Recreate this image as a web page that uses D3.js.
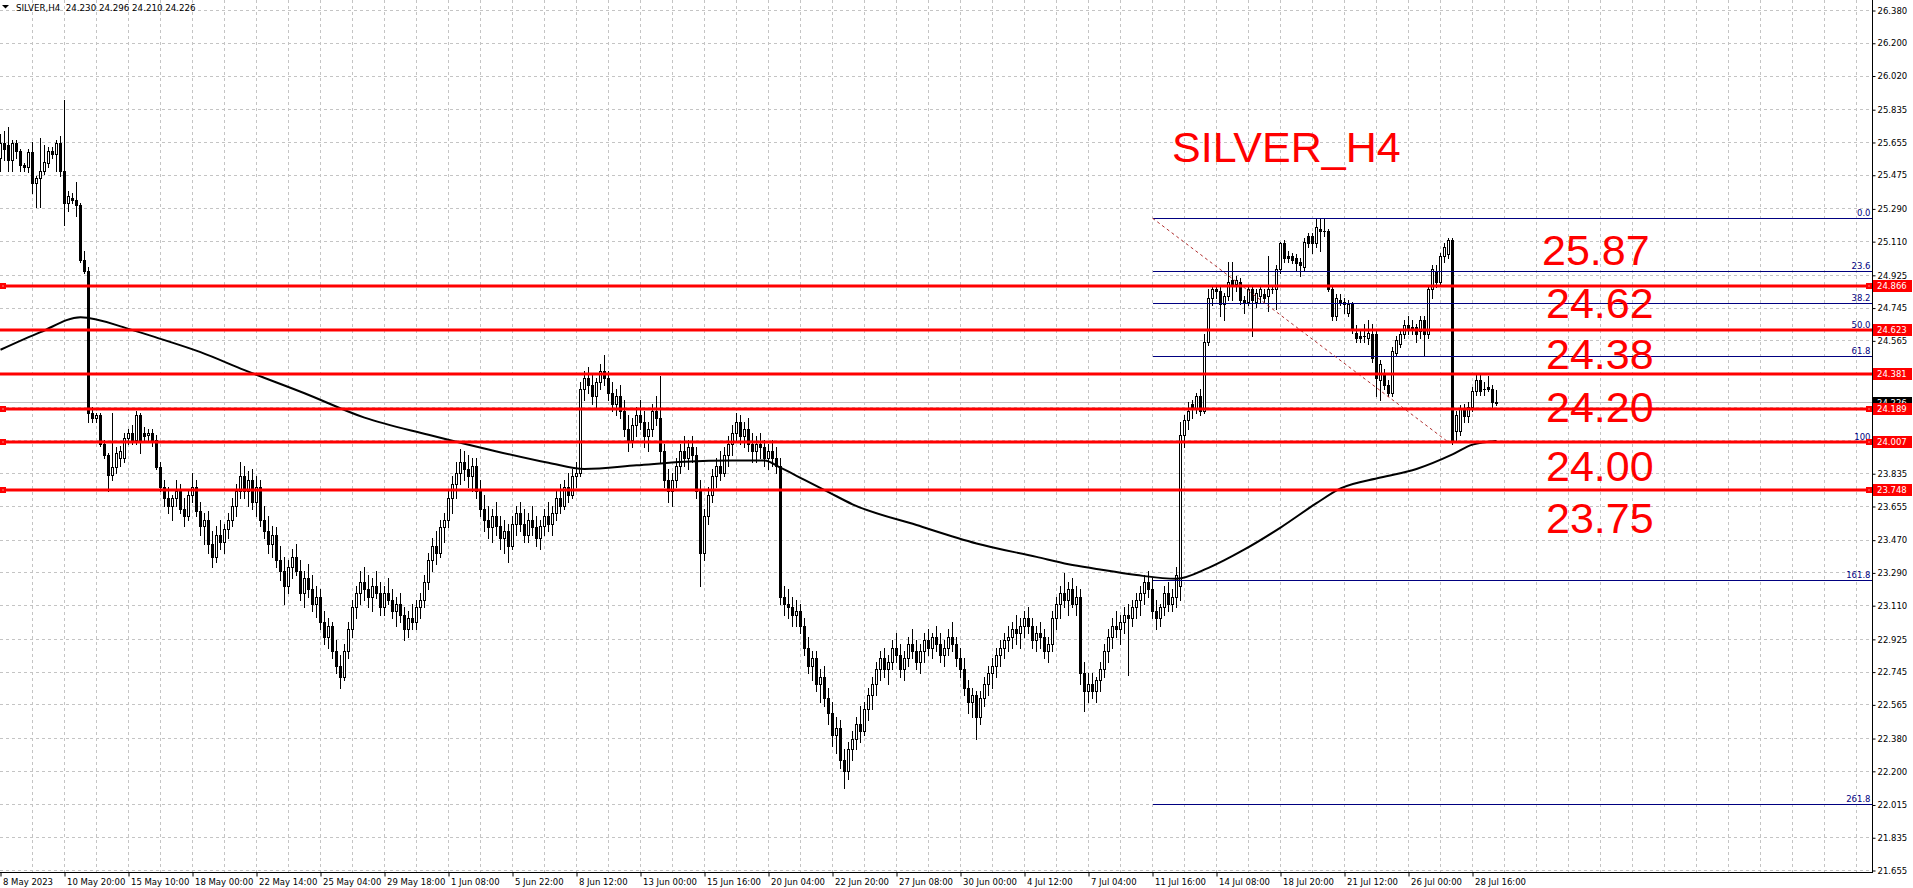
<!DOCTYPE html>
<html><head><meta charset="utf-8">
<script src="https://cdn.jsdelivr.net/npm/d3@7"></script>
<style>html,body{margin:0;padding:0;background:#fff;overflow:hidden}svg{display:block}</style>
</head><body>
<script>
// ---------------- DATA ----------------
const headerText = "SILVER,H4  24.230 24.296 24.210 24.226";
const chartTitle = "SILVER_H4";
// OHLC per H4 bar, oldest first
const candles = [
[25.57,25.70,25.50,25.65],[25.65,25.72,25.56,25.62],[25.64,25.74,25.50,25.56],[25.56,25.67,25.50,25.65],
[25.65,25.67,25.57,25.61],[25.61,25.62,25.50,25.53],[25.53,25.54,25.50,25.52],[25.52,25.62,25.49,25.60],
[25.60,25.66,25.38,25.43],[25.43,25.47,25.30,25.46],[25.46,25.68,25.30,25.50],[25.50,25.64,25.48,25.55],
[25.54,25.63,25.52,25.61],[25.61,25.63,25.57,25.59],[25.59,25.67,25.50,25.65],[25.65,25.69,25.47,25.50],
// 16
[25.50,25.89,25.20,25.32],[25.32,25.39,25.28,25.36],[25.35,25.38,25.32,25.34],[25.34,25.44,25.25,25.31],
[25.31,25.32,25.00,25.01],[25.01,25.06,24.94,24.95],[24.95,24.97,24.12,24.17],[24.17,24.20,24.12,24.14],
[24.14,24.17,24.12,24.16],[24.16,24.17,23.99,24.00],[24.00,24.02,23.92,23.94],[23.94,23.95,23.74,23.83],
[23.83,24.17,23.80,23.87],[23.87,23.98,23.84,23.95],[23.92,23.99,23.88,23.96],[23.92,24.06,23.90,24.03],
// 32
[24.03,24.08,24.00,24.06],[24.06,24.10,24.00,24.02],[24.02,24.18,24.00,24.16],[24.16,24.17,23.95,24.02],
[24.06,24.09,24.02,24.04],[24.05,24.08,24.02,24.06],[24.06,24.08,23.99,24.02],[24.02,24.05,23.86,23.87],
[23.87,23.90,23.74,23.76],[23.76,23.80,23.66,23.70],[23.70,23.76,23.62,23.66],[23.66,23.72,23.58,23.70],
[23.70,23.80,23.66,23.74],[23.74,23.78,23.62,23.64],[23.64,23.70,23.55,23.60],[23.60,23.75,23.58,23.72],
// 48
[23.72,23.84,23.68,23.76],[23.76,23.80,23.60,23.63],[23.63,23.68,23.50,23.55],[23.55,23.62,23.45,23.58],
[23.58,23.63,23.40,23.45],[23.45,23.52,23.32,23.38],[23.38,23.55,23.35,23.50],[23.50,23.58,23.42,23.46],
[23.46,23.56,23.40,23.53],[23.53,23.62,23.48,23.58],[23.58,23.70,23.55,23.66],[23.66,23.78,23.60,23.74],
[23.74,23.90,23.70,23.82],[23.82,23.88,23.70,23.74],[23.74,23.85,23.66,23.80],[23.80,23.86,23.64,23.68],
// 64
[23.68,23.82,23.60,23.76],[23.76,23.80,23.55,23.58],[23.58,23.66,23.48,23.52],[23.52,23.60,23.40,23.45],
[23.45,23.55,23.38,23.50],[23.50,23.54,23.32,23.36],[23.36,23.44,23.25,23.30],[23.30,23.38,23.12,23.22],
[23.22,23.36,23.18,23.32],[23.32,23.42,23.26,23.38],[23.38,23.45,23.28,23.30],[23.30,23.36,23.14,23.18],
[23.18,23.30,23.10,23.26],[23.26,23.34,23.16,23.20],[23.20,23.28,23.08,23.12],[23.12,23.22,23.05,23.16],
// 80
[23.16,23.20,22.98,23.02],[23.02,23.08,22.90,22.94],[22.94,23.04,22.88,23.00],[23.00,23.02,22.82,22.86],
[22.86,22.92,22.74,22.78],[22.78,22.84,22.66,22.72],[22.72,22.90,22.70,22.86],[22.86,23.02,22.82,22.98],
[22.98,23.14,22.94,23.10],[23.10,23.22,23.04,23.18],[23.18,23.30,23.12,23.24],[23.24,23.32,23.14,23.20],
[23.20,23.28,23.10,23.16],[23.16,23.26,23.08,23.22],[23.22,23.30,23.15,23.18],[23.18,23.24,23.06,23.10],
// 96
[23.10,23.22,23.06,23.18],[23.18,23.26,23.12,23.14],[23.14,23.20,23.04,23.08],[23.08,23.16,23.00,23.12],
[23.12,23.18,23.02,23.06],[23.06,23.10,22.92,22.98],[22.98,23.08,22.94,23.04],[23.04,23.12,22.98,23.02],
[23.02,23.14,22.98,23.10],[23.10,23.18,23.04,23.14],[23.14,23.28,23.10,23.24],[23.24,23.40,23.20,23.36],
[23.36,23.48,23.30,23.44],[23.44,23.52,23.34,23.40],[23.40,23.58,23.38,23.54],[23.54,23.62,23.46,23.58],
// 112
[23.58,23.74,23.54,23.70],[23.70,23.82,23.62,23.78],[23.78,23.90,23.70,23.84],[23.84,23.97,23.78,23.90],
[23.90,23.96,23.80,23.86],[23.86,23.94,23.76,23.82],[23.82,23.92,23.74,23.88],[23.88,23.92,23.70,23.74],
[23.74,23.80,23.60,23.64],[23.64,23.72,23.52,23.58],[23.58,23.66,23.48,23.54],[23.54,23.64,23.46,23.60],
[23.60,23.68,23.50,23.55],[23.55,23.60,23.42,23.48],[23.48,23.58,23.40,23.52],[23.52,23.56,23.35,23.44],
// 128
[23.44,23.60,23.42,23.56],[23.56,23.66,23.50,23.62],[23.62,23.68,23.52,23.56],[23.56,23.64,23.46,23.50],
[23.50,23.62,23.46,23.58],[23.58,23.66,23.50,23.54],[23.54,23.60,23.44,23.48],[23.48,23.58,23.42,23.55],
[23.55,23.64,23.50,23.60],[23.60,23.68,23.52,23.56],[23.56,23.66,23.50,23.62],[23.62,23.74,23.58,23.70],
[23.70,23.78,23.62,23.66],[23.66,23.80,23.64,23.76],[23.76,23.84,23.68,23.72],[23.72,23.86,23.70,23.82],
// 144
[23.82,23.90,23.76,23.84],[23.84,24.34,23.82,24.30],[24.30,24.40,24.24,24.36],[24.36,24.42,24.28,24.32],
[24.32,24.38,24.22,24.26],[24.26,24.36,24.20,24.34],[24.34,24.44,24.30,24.40],[24.40,24.49,24.32,24.36],
[24.36,24.40,24.24,24.28],[24.28,24.34,24.18,24.22],[24.22,24.30,24.16,24.26],[24.26,24.32,24.14,24.18],
[24.18,24.24,24.04,24.08],[24.08,24.16,23.96,24.02],[24.02,24.14,23.98,24.10],[24.10,24.20,24.04,24.16],
// 160
[24.16,24.24,24.08,24.12],[24.12,24.18,23.98,24.04],[24.04,24.12,23.96,24.08],[24.08,24.22,24.04,24.18],
[24.18,24.26,24.10,24.14],[24.14,24.37,23.90,23.96],[23.96,24.00,23.76,23.80],[23.80,23.86,23.68,23.74],
[23.74,23.84,23.66,23.80],[23.80,23.92,23.76,23.88],[23.88,24.00,23.84,23.96],[23.96,24.04,23.88,23.92],
[23.92,24.02,23.86,23.98],[23.98,24.04,23.90,23.94],[23.94,23.98,23.70,23.74],[23.74,23.80,23.22,23.40],
// 176
[23.40,23.64,23.36,23.60],[23.60,23.76,23.56,23.72],[23.72,23.86,23.68,23.82],[23.82,23.92,23.76,23.88],
[23.88,23.96,23.80,23.84],[23.84,23.98,23.82,23.94],[23.94,24.04,23.88,24.00],[24.00,24.10,23.94,24.06],
[24.06,24.17,24.02,24.12],[24.12,24.16,24.00,24.04],[24.04,24.12,23.98,24.08],[24.08,24.14,23.96,24.00],
[24.00,24.06,23.90,23.96],[23.96,24.04,23.90,24.00],[24.00,24.06,23.92,23.98],[23.98,24.02,23.88,23.92],
// 192
[23.92,24.00,23.86,23.96],[23.96,24.02,23.88,23.92],[23.92,23.98,23.84,23.88],[23.88,23.92,23.12,23.16],
[23.16,23.22,23.06,23.12],[23.12,23.20,23.04,23.10],[23.10,23.16,23.00,23.06],[23.06,23.14,23.00,23.08],
[23.08,23.12,22.96,23.00],[23.00,23.04,22.84,22.88],[22.88,22.94,22.74,22.78],[22.78,22.86,22.70,22.82],
[22.82,22.86,22.64,22.68],[22.68,22.76,22.58,22.72],[22.72,22.78,22.56,22.60],[22.60,22.66,22.46,22.52],
// 208
[22.52,22.58,22.34,22.40],[22.40,22.50,22.30,22.44],[22.44,22.48,22.22,22.26],[22.26,22.32,22.11,22.20],
[22.20,22.36,22.16,22.32],[22.32,22.42,22.26,22.38],[22.38,22.50,22.32,22.46],[22.46,22.56,22.36,22.42],
[22.42,22.58,22.40,22.54],[22.54,22.66,22.48,22.62],[22.62,22.72,22.54,22.68],[22.68,22.80,22.62,22.76],
[22.76,22.86,22.70,22.82],[22.82,22.88,22.72,22.76],[22.76,22.84,22.68,22.80],[22.80,22.92,22.76,22.88],
// 224
[22.88,22.96,22.80,22.84],[22.84,22.90,22.72,22.76],[22.76,22.86,22.70,22.82],[22.82,22.94,22.78,22.90],
[22.90,22.98,22.82,22.86],[22.86,22.92,22.76,22.80],[22.80,22.90,22.74,22.86],[22.86,22.96,22.80,22.92],
[22.92,22.98,22.84,22.88],[22.88,22.96,22.82,22.94],[22.94,23.00,22.86,22.90],[22.90,22.96,22.80,22.84],
[22.84,22.92,22.78,22.88],[22.88,22.98,22.84,22.94],[22.94,23.02,22.86,22.90],[22.90,22.94,22.78,22.82],
// 240
[22.82,22.88,22.72,22.76],[22.76,22.82,22.62,22.66],[22.66,22.70,22.52,22.58],[22.58,22.66,22.50,22.62],
[22.62,22.64,22.38,22.50],[22.50,22.64,22.46,22.60],[22.60,22.72,22.56,22.68],[22.68,22.78,22.62,22.74],
[22.74,22.82,22.66,22.78],[22.78,22.88,22.72,22.84],[22.84,22.92,22.78,22.88],[22.88,22.96,22.82,22.92],
[22.92,23.00,22.86,22.94],[22.94,23.02,22.88,22.98],[22.98,23.06,22.90,22.96],[22.96,23.04,22.88,23.00],
// 256
[23.00,23.08,22.94,23.04],[23.04,23.10,22.96,23.00],[23.00,23.04,22.88,22.92],[22.92,23.00,22.86,22.96],
[22.96,23.02,22.88,22.94],[22.94,22.98,22.82,22.86],[22.86,22.94,22.80,22.90],[22.90,23.08,22.86,23.04],
[23.04,23.16,22.98,23.12],[23.12,23.22,23.04,23.18],[23.18,23.29,23.10,23.14],[23.14,23.24,23.06,23.20],
[23.20,23.26,23.10,23.12],[23.12,23.22,23.06,23.16],[23.16,23.20,22.68,22.74],[22.74,22.80,22.53,22.64],
// 272
[22.64,22.74,22.58,22.68],[22.68,22.74,22.60,22.64],[22.64,22.72,22.58,22.70],[22.70,22.80,22.64,22.76],
[22.76,22.90,22.72,22.86],[22.86,22.98,22.80,22.94],[22.94,23.04,22.88,23.00],[23.00,23.08,22.94,22.98],
[22.98,23.06,22.90,23.02],[23.02,23.10,22.96,23.06],[23.06,23.12,22.73,23.04],[23.04,23.14,23.00,23.10],
[23.10,23.18,23.04,23.14],[23.14,23.22,23.06,23.18],[23.18,23.28,23.12,23.24],[23.24,23.30,23.16,23.20],
// 288
[23.20,23.26,23.04,23.08],[23.08,23.14,22.98,23.04],[23.04,23.12,23.00,23.10],[23.10,23.22,23.06,23.18],
[23.18,23.24,23.08,23.12],[23.12,23.20,23.08,23.16],[23.16,23.32,23.10,23.28],[23.22,24.12,23.14,24.05],
[24.05,24.16,23.98,24.13],[24.13,24.23,24.08,24.18],[24.22,24.24,24.14,24.19],[24.19,24.28,24.17,24.26],
[24.26,24.30,24.16,24.18],[24.18,24.60,24.17,24.56],[24.56,24.85,24.54,24.80],[24.80,24.87,24.76,24.85],
// 304
[24.85,24.87,24.80,24.84],[24.84,24.86,24.70,24.77],[24.77,24.83,24.68,24.81],[24.81,25.00,24.79,24.89],
[24.90,25.00,24.79,24.88],[24.88,24.92,24.84,24.90],[24.89,24.91,24.77,24.79],[24.79,24.81,24.72,24.78],
[24.78,24.87,24.76,24.85],[24.85,24.86,24.59,24.79],[24.78,24.85,24.75,24.83],[24.81,24.87,24.78,24.85],
[24.82,24.85,24.78,24.80],[24.81,25.03,24.73,24.85],[24.85,24.87,24.83,24.85],[24.85,24.98,24.74,24.96],
// 320
[24.96,25.11,24.94,25.10],[25.10,25.12,25.00,25.02],[25.03,25.06,25.00,25.02],[25.03,25.05,24.99,25.01],
[25.02,25.04,24.95,24.99],[25.00,25.02,24.92,24.98],[24.97,25.13,24.95,25.11],[25.14,25.16,25.08,25.10],
[25.14,25.16,25.05,25.10],[25.10,25.24,25.08,25.19],[25.18,25.24,25.06,25.17],[25.17,25.24,25.14,25.17],
[25.17,25.18,24.84,24.85],[24.85,24.87,24.68,24.70],[24.70,24.82,24.68,24.80],[24.79,24.82,24.76,24.78],
// 336
[24.78,24.80,24.72,24.77],[24.72,24.79,24.70,24.77],[24.77,24.78,24.61,24.63],[24.61,24.65,24.56,24.58],
[24.59,24.63,24.56,24.58],[24.59,24.66,24.56,24.59],[24.58,24.68,24.55,24.61],[24.60,24.66,24.45,24.47],
[24.60,24.62,24.26,24.36],[24.35,24.46,24.24,24.44],[24.38,24.41,24.30,24.32],[24.32,24.35,24.26,24.28],
[24.28,24.53,24.26,24.51],[24.50,24.59,24.48,24.57],[24.55,24.62,24.53,24.60],[24.60,24.68,24.58,24.65],
// 352
[24.65,24.70,24.60,24.63],[24.64,24.68,24.60,24.63],[24.64,24.66,24.56,24.60],[24.62,24.70,24.58,24.68],
[24.68,24.70,24.49,24.60],[24.60,24.87,24.58,24.85],[24.85,24.98,24.80,24.96],[24.95,24.98,24.86,24.89],
[24.89,25.05,24.87,25.03],[25.03,25.10,25.00,25.08],[25.04,25.13,25.02,25.12],[25.12,25.13,24.00,24.02],
[24.07,24.18,24.02,24.16],[24.07,24.21,24.05,24.19],[24.19,24.22,24.12,24.15],[24.15,24.23,24.12,24.20],
// 368
[24.20,24.31,24.18,24.29],[24.29,24.39,24.27,24.35],[24.35,24.38,24.27,24.29],[24.30,24.34,24.27,24.30],
[24.31,24.37,24.29,24.30],[24.30,24.32,24.20,24.23],[24.230,24.296,24.210,24.226]
];
// Moving average (black curve): bar index -> value
const maBars   = [0,10,20,32,40,50,61,76,91,107,122,137,146,159,171,183,191,195,201,207,213,229,244,259,267,274,284,294,302,311,320,329,335,345,354,363,368,374];
const maValues = [24.516,24.613,24.695,24.631,24.576,24.503,24.404,24.277,24.143,24.049,23.968,23.895,23.861,23.881,23.901,23.908,23.908,23.868,23.801,23.734,23.667,23.553,23.452,23.378,23.338,23.312,23.278,23.258,23.318,23.419,23.539,23.673,23.754,23.814,23.861,23.941,23.995,24.015];
// Price axis tick labels
const yTickLabels = ["21.655","21.835","22.015","22.200","22.380","22.565","22.745","22.925","23.110","23.290","23.470","23.655","23.835","24.020","24.200","24.381","24.565","24.745","24.925","25.110","25.290","25.475","25.655","25.835","26.020","26.200","26.380"];
// Time axis labels (every 16 bars)
const xTickLabels = ["8 May 2023","10 May 20:00","15 May 10:00","18 May 00:00","22 May 14:00","25 May 04:00","29 May 18:00","1 Jun 08:00","5 Jun 22:00","8 Jun 12:00","13 Jun 00:00","15 Jun 16:00","20 Jun 04:00","22 Jun 20:00","27 Jun 08:00","30 Jun 00:00","4 Jul 12:00","7 Jul 04:00","11 Jul 16:00","14 Jul 08:00","18 Jul 20:00","21 Jul 12:00","26 Jul 00:00","28 Jul 16:00"];
// Horizontal support/resistance levels
const levelPrices = [24.866, 24.623, 24.381, 24.189, 24.007, 23.748];
const levelMarked = [true, false, false, true, true, true];
const currentPrice = 24.226;
// Fibonacci retracement
const fibHigh = 25.239, fibLow = 24.008;
const fibStartBar = 288, fibEndBar = 362;
const fibRatios = [0, 23.6, 38.2, 50.0, 61.8, 100, 161.8, 261.8];
const fibLabels = ["0.0","23.6","38.2","50.0","61.8","100","161.8","261.8"];
// Big annotation texts
const noteLabels = ["25.87","24.62","24.38","24.20","24.00","23.75"];

// ---------------- CHART ----------------
const W = 1913, H = 888;
const plotRight = 1872.5, plotBottom = 872.5;
const FONT = '"DejaVu Sans", Verdana, sans-serif';
const svg = d3.select('body').append('svg').attr('width', W).attr('height', H)
  .style('font-family', FONT);

const y = d3.scaleLinear().domain([21.655, 26.380]).range([870.5, 10.5]);
const x = d3.scaleLinear().domain([0, 468]).range([0.5, 1872.5]);
const snap = v => Math.round(v - 0.5) + 0.5;

// grid
const grid = svg.append('g').attr('stroke', '#c4c4c4').attr('stroke-dasharray', '3,3')
  .attr('shape-rendering', 'crispEdges');
yTickLabels.forEach(t => {
  const yy = snap(y(+t));
  grid.append('line').attr('x1', 0).attr('x2', plotRight).attr('y1', yy).attr('y2', yy);
});
for (let b = 8; b < 468; b += 8) {
  const xx = snap(x(b));
  grid.append('line').attr('x1', xx).attr('x2', xx).attr('y1', 0).attr('y2', plotBottom);
}

// current price line
svg.append('line').attr('x1', 0).attr('x2', plotRight)
  .attr('y1', snap(y(currentPrice))).attr('y2', snap(y(currentPrice)))
  .attr('stroke', '#c0c0c0').attr('shape-rendering', 'crispEdges');

// candles
const cg = svg.append('g').attr('shape-rendering', 'crispEdges');
candles.forEach((c, i) => {
  const [o, h, l, cl] = c;
  const cx = x(i);
  cg.append('line').attr('x1', cx).attr('x2', cx).attr('y1', Math.round(y(h))).attr('y2', Math.round(y(l)) + 1)
    .attr('stroke', '#000');
  const top = Math.round(y(Math.max(o, cl))), bot = Math.round(y(Math.min(o, cl)));
  if (cl > o) {
    cg.append('rect').attr('x', cx - 1).attr('width', 2).attr('y', top + 0.5).attr('height', Math.max(bot - top, 1))
      .attr('fill', '#fff').attr('stroke', '#000');
  } else {
    cg.append('rect').attr('x', cx - 1.5).attr('width', 3).attr('y', top).attr('height', Math.max(bot - top, 1) + (bot - top < 1 ? 0 : 1))
      .attr('fill', '#000');
  }
});

// moving average
const maData = maBars.map((b, i) => [b, maValues[i]]);
svg.append('path').datum(maData)
  .attr('d', d3.line().x(d => x(d[0])).y(d => y(d[1])).curve(d3.curveMonotoneX))
  .attr('fill', 'none').attr('stroke', '#000').attr('stroke-width', 2);

// fibonacci
const fg = svg.append('g');
const fx0 = snap(x(fibStartBar));
fibRatios.forEach((r, i) => {
  const p = fibHigh - (fibHigh - fibLow) * r / 100;
  const yy = snap(y(p));
  fg.append('line').attr('x1', fx0).attr('x2', plotRight - 1).attr('y1', yy).attr('y2', yy)
    .attr('stroke', '#000080').attr('shape-rendering', 'crispEdges');
  fg.append('text').attr('x', plotRight - 2).attr('y', yy - 2.5).attr('text-anchor', 'end')
    .attr('font-size', '8.5px').attr('fill', '#000080').text(fibLabels[i]);
});
fg.append('line').attr('x1', fx0).attr('y1', y(fibHigh)).attr('x2', x(fibEndBar)).attr('y2', y(fibLow))
  .attr('stroke', '#b03030').attr('stroke-dasharray', '3,3');

// level lines
const lg = svg.append('g');
levelPrices.forEach((p, i) => {
  const yy = Math.round(y(p));
  lg.append('rect').attr('x', 0).attr('y', yy - 1.5).attr('width', plotRight).attr('height', 3).attr('fill', '#ff0000');
  if (levelMarked[i]) {
    [0, plotRight - 6.5].forEach(mx => {
      lg.append('rect').attr('x', Math.round(mx)).attr('y', yy - 3).attr('width', 6).attr('height', 6).attr('fill', '#ff0000');
      lg.append('rect').attr('x', Math.round(mx) + 2.5).attr('y', yy - 0.5).attr('width', 1).attr('height', 1).attr('fill', '#fff');
    });
  }
});

// price axis
const yAxis = d3.axisRight(y).tickValues(yTickLabels.map(Number))
  .tickFormat((d, i) => yTickLabels[i]).tickSize(3).tickPadding(2);
const ya = svg.append('g').attr('transform', `translate(${plotRight},0)`).call(yAxis);
ya.select('.domain').remove();
ya.selectAll('text').attr('font-family', FONT).attr('font-size', '8.5px').attr('fill', '#000')
  .attr('x', 5)
  .style('opacity', d => (levelPrices.concat([currentPrice]).some(p => Math.abs(y(p) - y(d)) < 8) ? 0 : 1));
ya.selectAll('.tick line').attr('stroke', '#000');
svg.append('line').attr('x1', plotRight).attr('x2', plotRight).attr('y1', 0).attr('y2', plotBottom)
  .attr('stroke', '#000').attr('shape-rendering', 'crispEdges');

// time axis
const xTickBars = xTickLabels.map((_, i) => i * 16);
const xAxis = d3.axisBottom(x).tickValues(xTickBars).tickFormat((d, i) => xTickLabels[i]).tickSize(4).tickPadding(2);
const xa = svg.append('g').attr('transform', `translate(0,${plotBottom})`).call(xAxis);
xa.select('.domain').remove();
xa.selectAll('text').attr('font-family', FONT).attr('font-size', '8.5px').attr('fill', '#000')
  .attr('text-anchor', 'start').attr('x', 2).attr('y', 6).attr('dy', '0.71em');
xa.selectAll('.tick line').attr('stroke', '#000');
svg.append('line').attr('x1', 0).attr('x2', plotRight).attr('y1', plotBottom).attr('y2', plotBottom)
  .attr('stroke', '#000').attr('shape-rendering', 'crispEdges');

// price tags
const tg = svg.append('g');
const tag = (p, fill, txt) => {
  const yy = y(p);
  tg.append('rect').attr('x', plotRight + 0.5).attr('y', Math.round(yy) - 6).attr('width', 39).attr('height', 12).attr('fill', fill);
  tg.append('text').attr('x', plotRight + 4.5).attr('y', yy).attr('dy', '0.35em').attr('font-size', '8.5px')
    .attr('fill', '#fff').text(txt);
};
tag(currentPrice, '#000', currentPrice.toFixed(3));
levelPrices.forEach(p => tag(p, '#ff0000', p.toFixed(3)));

// header
svg.append('path').attr('d', 'M2,5 L9,5 L5.5,8.5 Z').attr('fill', '#000');
svg.append('text').attr('x', 16).attr('y', 11).attr('font-size', '8.7px').attr('fill', '#000')
  .attr('xml:space', 'preserve').style('white-space', 'pre').text(headerText);

// big annotations
const BIG = '"Liberation Sans", Arial, sans-serif';
svg.append('text').attr('x', 1172).attr('y', 162).attr('font-family', BIG).attr('font-size', '43px')
  .attr('fill', '#ff0000').text(chartTitle);
const noteX = [1542, 1546, 1546, 1546, 1546, 1546];
const noteY = [265, 318, 369, 422, 481, 533];
noteLabels.forEach((t, i) => {
  svg.append('text').attr('x', noteX[i]).attr('y', noteY[i]).attr('font-family', BIG).attr('font-size', '43px')
    .attr('fill', '#ff0000').text(t);
});
</script>
</body></html>
